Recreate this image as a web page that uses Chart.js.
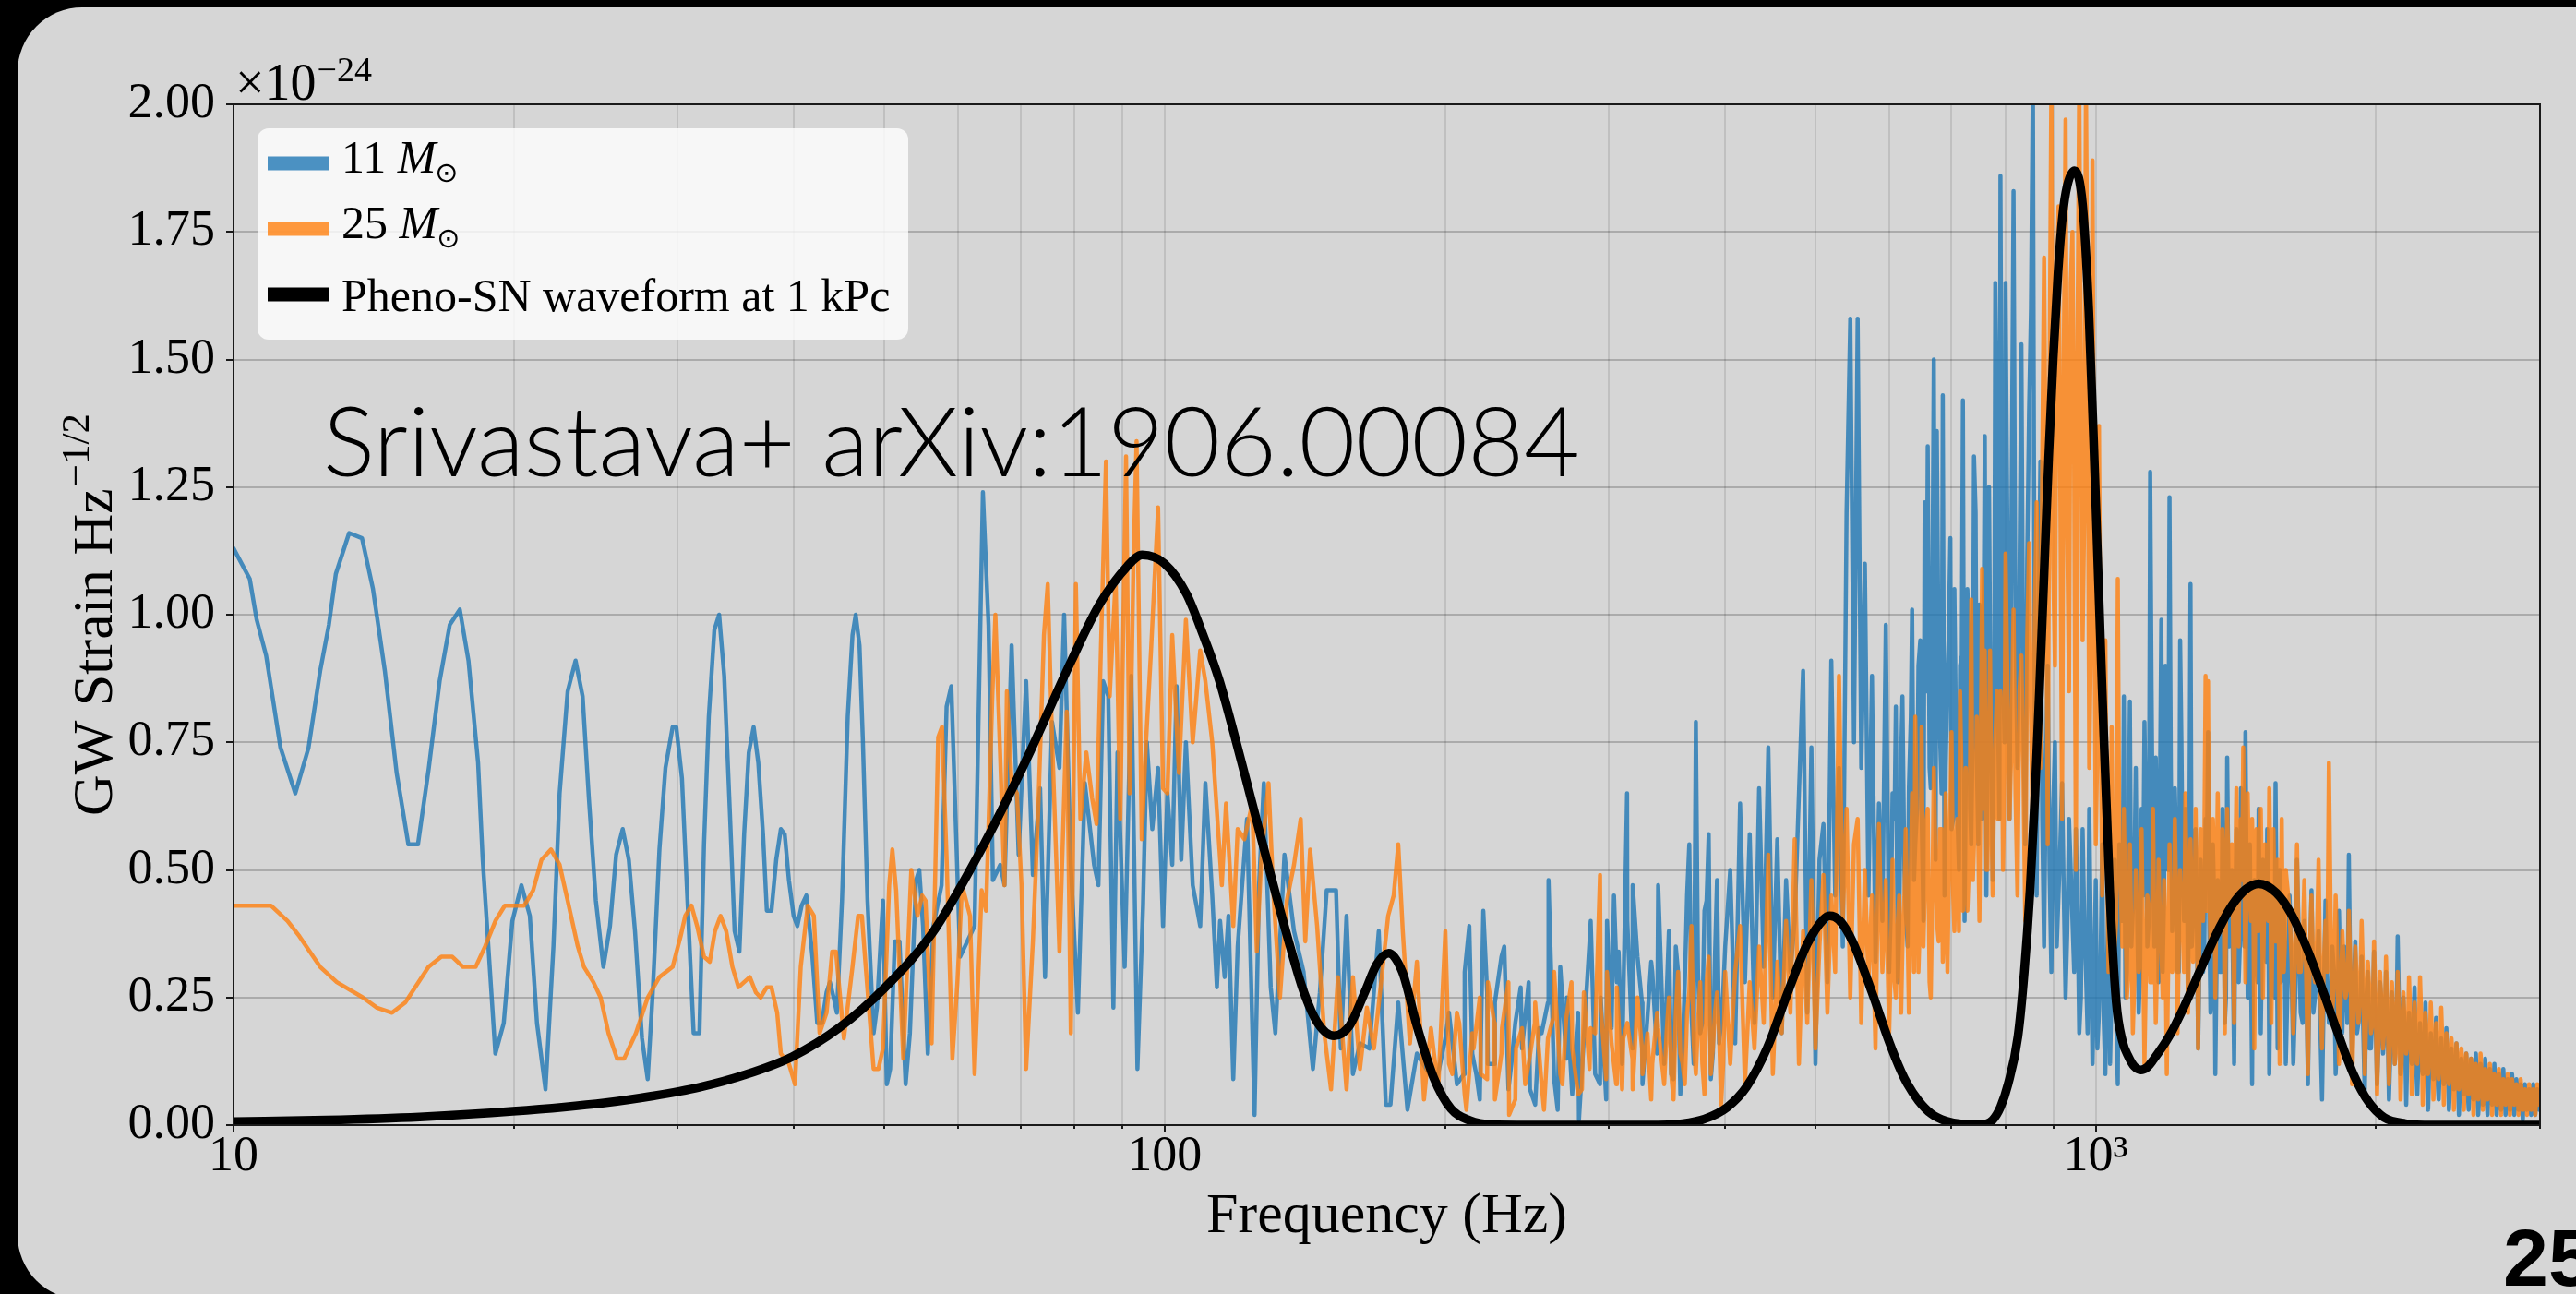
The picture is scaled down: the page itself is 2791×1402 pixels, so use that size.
<!DOCTYPE html>
<html lang="en">
<head>
<meta charset="UTF-8">
<title>GW strain spectra - Pheno-SN</title>
<script src="https://cdn.jsdelivr.net/npm/chart.js"></script>
<style>
  html, body { margin: 0; padding: 0; background: #000; }
  canvas { display: block; }
</style>
</head>
<body>
<canvas id="spectrum" width="2791" height="1402"></canvas>
<script>
// ---- data (strain in units of 1e-24 Hz^-1/2, frequency in Hz) ----

// 11 Msun, traced points 10 - 340 Hz
const blueLow = [
  [10.0,1.13],[10.41,1.07],[10.59,0.99],[10.84,0.92],[11.23,0.74],[11.65,0.65],[12.04,0.74],[12.39,0.89],[12.66,0.98],[12.88,1.08],
  [13.31,1.16],[13.74,1.15],[14.12,1.05],[14.54,0.89],[14.97,0.69],[15.41,0.55],[15.78,0.55],[16.21,0.70],[16.65,0.87],[17.07,0.98],
  [17.50,1.01],[17.88,0.91],[18.31,0.71],[18.52,0.52],[19.11,0.14],[19.51,0.20],[19.93,0.40],[20.38,0.47],[20.81,0.41],[21.18,0.20],
  [21.63,0.07],[22.06,0.35],[22.40,0.65],[22.85,0.85],[23.30,0.91],[23.71,0.84],[24.08,0.64],[24.50,0.44],[24.96,0.31],[25.37,0.39],
  [25.76,0.53],[26.18,0.58],[26.58,0.52],[26.99,0.38],[27.46,0.17],[27.85,0.09],[28.20,0.26],[28.67,0.54],[29.10,0.70],[29.62,0.78],
  [29.89,0.78],[30.31,0.68],[30.73,0.44],[31.20,0.18],[31.65,0.18],[32.01,0.55],[32.39,0.80],[32.84,0.97],[33.23,1.00],[33.65,0.88],
  [34.13,0.61],[34.53,0.38],[34.94,0.34],[35.35,0.57],[35.76,0.73],[36.19,0.78],[36.61,0.71],[37.04,0.57],[37.39,0.42],[37.82,0.42],
  [38.27,0.52],[38.71,0.58],[39.08,0.57],[39.49,0.48],[39.95,0.41],[40.32,0.39],[40.75,0.43],[41.23,0.45],[41.85,0.33],[42.35,0.20],
  [42.84,0.20],[43.34,0.26],[43.70,0.28],[44.11,0.25],[44.46,0.22],[45.03,0.44],[45.67,0.80],[46.21,0.96],[46.58,1.00],[47.02,0.94],
  [47.40,0.76],[47.96,0.44],[48.69,0.18],[49.09,0.23],[49.83,0.44],[50.30,0.08],[50.72,0.11],[51.31,0.36],[51.91,0.36],[52.70,0.08],
  [53.26,0.18],[54.08,0.48],[54.51,0.50],[55.02,0.39],[55.67,0.14],[56.44,0.39],[57.60,0.47],[58.32,0.82],[59.00,0.86],[60.30,0.33],
  [62.5,0.39],[63.8,1.24],[64.7,0.98],[65.4,0.48],[66.6,0.51],[67.3,0.47],[68.5,0.94],[69.7,0.53],[71.0,0.87],[72.2,0.49],
  [73.5,0.66],[74.4,0.29],[75.7,0.79],[77.1,0.70],[78.0,1.00],[79.3,0.51],[80.7,0.22],[82.1,0.67],[84.0,0.51],[84.9,0.47],
  [85.9,0.87],[87.0,0.84],[88.1,0.23],[89.0,0.73],[90.6,0.31],[92.1,0.88],[93.5,0.11],[94.8,0.43],[95.7,0.75],[97.0,0.58],
  [98.4,0.70],[99.6,0.39],[100.7,0.65],[101.9,0.51],[103.0,0.86],[104.2,0.52],[105.4,0.75],[107.2,0.47],[109.2,0.39],[110.6,0.67],
  [112.5,0.45],[113.8,0.27],[114.7,0.40],[116.0,0.29],[117.1,0.41],[118.5,0.09],[119.8,0.35],[122.6,0.60],[124.9,0.02],[126.3,0.47],
  [127.8,0.67],[130.0,0.27],[131.5,0.18],[134.5,0.53],[137.7,0.38],[141.0,0.30],[144.3,0.11],[146.8,0.26],[149.3,0.46],[152.8,0.46],
  [154.6,0.15],[156.8,0.41],[159.3,0.10],[162.1,0.16],[165.9,0.15],[169.8,0.38],[172.8,0.04],[174.8,0.04],[178.2,0.24],[182.3,0.03],
  [186.6,0.14],[190.9,0.11],[195.6,0.08],[200.2,0.17],[204.9,0.12],[209.6,0.10],[212.4,0.39],[216.1,0.10],[219.9,0.42],[222.4,0.12],
  [226.3,0.24],[231.6,0.35],[235.7,0.12],[241.2,0.27],[246.8,0.07],[252.5,0.19],[258.4,0.48],[264.3,0.03],[270.4,0.25],[278.6,0.01],
  [283.6,0.25],[286.8,0.40],[293.5,0.08],[298.6,0.40],[303.8,0.45],[307.3,0.34],[313.8,0.65],[318.2,0.47],[325.6,0.24],[333.1,0.32],
  [338.9,0.47]
];

// 25 Msun, traced points 10 - 340 Hz
const orangeLow = [
  [10.0,0.43],[10.47,0.43],[10.97,0.43],[11.43,0.40],[11.77,0.37],[12.39,0.31],[12.91,0.28],[13.77,0.25],[14.26,0.23],[14.80,0.22],
  [15.29,0.24],[16.20,0.31],[16.72,0.33],[17.18,0.33],[17.64,0.31],[18.20,0.31],[18.63,0.35],[19.11,0.40],[19.56,0.43],[20.52,0.43],
  [20.98,0.46],[21.42,0.52],[21.93,0.54],[22.40,0.51],[22.85,0.44],[23.43,0.35],[23.79,0.31],[24.35,0.28],[24.79,0.25],[25.28,0.18],
  [25.82,0.13],[26.27,0.13],[27.05,0.18],[27.85,0.25],[28.67,0.29],[29.62,0.31],[30.21,0.37],[30.56,0.41],[31.03,0.43],[31.47,0.39],
  [32.01,0.33],[32.47,0.32],[32.89,0.38],[33.35,0.41],[33.82,0.38],[34.34,0.31],[34.86,0.27],[35.35,0.28],[35.85,0.29],[36.39,0.26],
  [36.82,0.25],[37.39,0.27],[37.82,0.27],[38.36,0.22],[38.71,0.14],[39.49,0.12],[40.09,0.08],[40.66,0.31],[41.37,0.43],[42.00,0.41],
  [42.60,0.18],[43.34,0.22],[43.95,0.34],[44.36,0.34],[45.24,0.17],[46.21,0.31],[46.86,0.41],[47.30,0.41],[47.75,0.31],[48.69,0.11],
  [49.27,0.11],[49.83,0.15],[50.60,0.47],[51.00,0.54],[51.48,0.46],[52.40,0.13],[53.44,0.50],[54.27,0.41],[54.90,0.45],[55.36,0.44],
  [56.20,0.16],[57.12,0.76],[57.66,0.78],[58.33,0.52],[59.16,0.13],[59.9,0.28],[60.6,0.47],[61.8,0.41],[62.5,0.10],[63.6,0.46],
  [64.3,0.42],[65.3,0.84],[65.8,1.00],[66.6,0.72],[67.3,0.47],[67.7,0.85],[68.5,0.67],[69.4,0.65],[70.2,0.47],[71.0,0.11],
  [72.2,0.36],[73.1,0.60],[74.2,0.96],[74.9,1.06],[75.7,0.76],[77.1,0.34],[78.5,0.81],[79.3,0.18],[80.3,1.06],[81.2,0.60],
  [82.4,0.73],[83.6,0.64],[84.5,0.59],[85.5,0.96],[86.5,1.30],[87.3,0.84],[88.6,1.07],[89.6,0.60],[90.9,1.31],[91.7,0.65],
  [92.6,1.11],[93.3,1.34],[94.5,0.56],[95.5,0.75],[96.7,0.93],[98.4,1.21],[99.6,0.66],[100.7,0.65],[101.9,0.96],[103.6,0.69],
  [105.4,0.99],[107.2,0.75],[109.2,0.93],[110.6,0.87],[112.5,0.75],[115.2,0.47],[116.4,0.63],[118.5,0.39],[119.8,0.58],[121.8,0.56],
  [124.2,0.63],[125.6,0.34],[127.0,0.52],[129.3,0.67],[130.8,0.46],[133.0,0.25],[135.3,0.44],[137.7,0.51],[140.0,0.60],[141.6,0.36],
  [143.3,0.54],[145.8,0.39],[148.4,0.18],[150.9,0.07],[153.5,0.29],[156.8,0.07],[159.3,0.29],[162.1,0.11],[164.9,0.23],[167.8,0.15],
  [170.8,0.28],[173.8,0.41],[176.2,0.45],[178.2,0.55],[180.2,0.38],[183.4,0.16],[186.6,0.32],[189.9,0.05],[193.2,0.19],[196.7,0.07],
  [200.2,0.38],[203.7,0.10],[207.2,0.20],[210.9,0.03],[214.7,0.15],[218.6,0.10],[222.4,0.28],[226.3,0.05],[230.3,0.19],[234.4,0.02],
  [238.4,0.15],[243.9,0.08],[249.8,0.20],[255.5,0.03],[261.4,0.21],[267.4,0.08],[273.5,0.28],[280.7,0.07],[286.8,0.19],[293.5,0.49],
  [298.6,0.30],[305.5,0.08],[310.9,0.17],[318.2,0.07],[325.6,0.15],[333.1,0.05],[338.9,0.19]
];

// dense part, shared frequency bins 344 - 2995 Hz
const hiFreq = [
  344,348,352,356,360,364,368,372,376,380,384,388,392,396,400,
  405,410,415,420,425,430,435,440,445,450,
  455,460,465,470,475,480,485,490,495,500,
  505,510,515,520,525,530,535,540,545,550,
  555,560,565,570,575,580,585,590,595,600,
  605,610,615,620,625,630,635,640,645,650,
  655,660,665,670,675,680,685,690,695,700,
  705,710,715,720,725,730,735,740,745,750,
  755,760,765,770,775,780,785,790,795,800,
  808,816,824,832,840,848,856,864,872,880,
  888,896,904,912,920,928,936,944,952,960,
  968,976,984,992,1000,1008,1016,1024,1032,1040,
  1048,1056,1064,1072,1080,1088,1096,1104,1112,1120,
  1128,1136,1144,1152,1160,1168,1176,1184,1192,1200,
  1208,1216,1224,1232,1240,1248,1256,1264,1272,1280,
  1288,1296,1304,1312,1320,1328,1336,1344,1352,1360,
  1368,1376,1384,1392,1400,1408,1416,1424,1432,1440,
  1448,1456,1464,1472,1480,1488,1496,1504,1512,1520,
  1528,1536,1544,1552,1560,1568,1576,1584,1592,1600,
  1615,1630,1645,1660,1675,1690,1705,1720,1735,1750,
  1765,1780,1795,1810,1825,1840,1855,1870,1885,1900,
  1915,1930,1945,1960,1975,1990,2005,2020,2035,2050,
  2065,2080,2095,2110,2125,2140,2155,2170,2185,2200,
  2215,2230,2245,2260,2275,2290,2305,2320,2335,2350,
  2365,2380,2395,2410,2425,2440,2455,2470,2485,2500,
  2515,2530,2545,2560,2575,2590,2605,2620,2635,2650,
  2665,2680,2695,2710,2725,2740,2755,2770,2785,2800,
  2815,2830,2845,2860,2875,2890,2905,2920,2935,2950,
  2965,2980,2995
];

const blueHi = [
  0.12,0.38,0.09,0.30,0.15,0.45,0.22,0.79,0.18,0.42,0.57,0.14,0.48,0.20,0.35,
  0.50,0.16,0.63,0.28,0.57,0.20,0.66,0.31,0.74,0.25,
  0.56,0.18,0.48,0.30,0.40,0.65,0.89,0.22,0.74,0.12,
  0.52,0.59,0.28,0.91,0.45,0.70,0.35,1.20,1.58,0.75,
  1.58,0.70,1.10,0.45,0.88,0.32,0.63,0.40,0.98,0.30,
  0.65,0.82,0.38,0.84,0.42,0.66,1.01,0.55,0.90,0.62,
  1.22,1.33,0.66,1.50,1.36,0.78,1.43,0.70,0.95,0.58,
  1.05,0.62,0.90,1.42,0.66,0.98,0.55,1.31,0.72,1.02,
  0.60,1.35,0.70,0.95,0.48,1.65,0.82,1.86,0.90,1.65,
  0.60,1.83,0.70,1.53,0.55,1.40,2.05,0.45,1.30,0.35,
  0.90,0.30,0.75,0.45,0.67,0.25,0.60,0.40,0.58,0.18,
  0.58,0.30,0.62,0.12,0.48,0.22,0.55,0.10,0.45,0.26,
  0.52,0.08,0.40,0.84,0.30,0.83,0.42,0.70,0.22,0.62,
  0.79,0.35,1.28,0.50,0.72,0.28,0.99,0.45,0.70,1.23,
  0.38,0.66,0.30,0.95,0.48,0.62,0.25,1.06,0.40,0.58,
  0.15,0.52,0.30,0.60,0.77,0.22,0.55,0.10,0.48,0.30,
  0.62,0.20,0.72,0.35,0.50,0.12,0.58,0.28,0.66,0.40,
  0.77,0.25,0.55,0.08,0.48,0.30,0.62,0.18,0.52,0.35,
  0.58,0.10,0.45,0.26,0.67,0.15,0.50,0.30,0.44,0.12,
  0.45,0.12,0.52,0.22,0.40,0.08,0.46,0.25,0.38,0.05,
  0.44,0.20,0.35,0.10,0.42,0.18,0.30,0.53,0.12,0.36,
  0.20,0.33,0.06,0.30,0.15,0.34,0.08,0.28,0.14,0.30,
  0.05,0.26,0.12,0.37,0.10,0.25,0.04,0.22,0.12,0.27,
  0.06,0.20,0.10,0.24,0.03,0.18,0.09,0.21,0.05,0.17,
  0.08,0.19,0.03,0.15,0.07,0.16,0.02,0.13,0.06,0.14,
  0.03,0.13,0.05,0.14,0.02,0.12,0.04,0.13,0.02,0.11,
  0.04,0.12,0.02,0.10,0.03,0.11,0.02,0.09,0.03,0.10,
  0.02,0.09,0.03,0.08,0.01,0.08,0.03,0.07,0.02,0.08,
  0.02,0.07,0.03
];

const orangeHi = [
  0.08,0.25,0.05,0.30,0.12,0.22,0.39,0.10,0.28,0.06,0.33,0.15,0.26,0.04,0.30,
  0.12,0.30,0.39,0.08,0.28,0.15,0.35,0.20,0.53,0.10,
  0.32,0.18,0.40,0.22,0.56,0.12,0.38,0.20,0.48,0.15,
  0.35,0.49,0.22,0.45,0.30,0.88,0.40,0.62,0.25,0.55,
  0.60,0.20,0.50,0.28,0.45,0.15,0.59,0.30,0.48,0.18,
  0.52,0.25,0.45,0.35,0.58,0.22,0.65,0.80,0.30,0.78,
  0.45,0.62,0.25,0.70,0.40,0.58,0.32,0.65,0.45,0.77,
  0.38,0.60,0.85,0.42,0.70,0.48,1.03,0.55,0.80,0.40,
  1.09,0.93,0.50,0.93,0.45,0.75,0.60,0.85,0.50,1.12,
  0.60,1.01,0.45,0.92,0.40,1.14,0.55,1.22,0.70,1.70,
  0.55,2.05,0.90,1.80,0.60,1.97,0.85,1.75,0.50,2.05,
  0.95,2.05,0.70,1.89,0.55,1.37,0.45,0.95,0.30,0.78,
  0.35,1.07,0.45,0.62,0.25,0.55,0.18,0.50,0.30,0.58,
  0.12,0.45,0.28,0.62,0.20,0.52,0.35,0.48,0.10,0.55,
  0.30,0.60,0.18,0.50,0.38,0.65,0.22,0.56,0.32,0.62,
  0.15,0.58,0.40,0.88,0.87,0.35,0.60,0.25,0.65,0.40,
  0.58,0.18,0.62,0.42,0.55,0.20,0.66,0.35,0.60,0.74,
  0.28,0.65,0.45,0.60,0.15,0.58,0.38,0.62,0.25,0.55,
  0.42,0.66,0.20,0.58,0.36,0.52,0.12,0.60,0.30,0.50,
  0.42,0.18,0.55,0.30,0.48,0.10,0.45,0.28,0.52,0.15,
  0.40,0.71,0.22,0.45,0.12,0.38,0.25,0.42,0.08,0.35,
  0.20,0.40,0.10,0.32,0.18,0.36,0.06,0.30,0.15,0.33,
  0.08,0.28,0.12,0.30,0.05,0.26,0.14,0.29,0.06,0.24,
  0.12,0.29,0.04,0.22,0.10,0.24,0.05,0.20,0.09,0.23,
  0.04,0.18,0.08,0.17,0.03,0.16,0.07,0.15,0.03,0.14,
  0.06,0.13,0.02,0.12,0.05,0.14,0.03,0.11,0.05,0.12,
  0.02,0.10,0.04,0.11,0.02,0.09,0.04,0.10,0.02,0.09,
  0.04,0.08,0.02,0.09,0.03,0.07,0.02,0.08,0.03,0.07,
  0.02,0.08,0.04
];

// in-between bins where the spectra are densest
const midFreq = [
  202,206,210,214,218,222,226,230,234,238,242,246,250,254,258,262,266,270,274,278,
  282,286,290,294,298,302,306,310,314,318,322,326,330,334,338,
  346,350,354,358,362,366,370,374,378,382,386,390,394,398,
  603,608,613,618,623,628,633,638,643,648,653,658,663,668,673,678,683,688,693,698,
  703,708,713,718,723,728,733,738,743,748,753,758,763,768,773,778,783,788,793,798,
  812,820,828,836,844,852,860,868,876,
  884,892,900,908,916,924,932,940,948,956,
  964,972,980,988,996,1004,1012,1020,1028,1036,
  1044,1052,1060,1068,1076,1084,1092,1100,1108,1116,
  1124,1132,1140,1148,1156,1164,1172,1180,1188,1196,
  1204,1212,1220,1228,1236,1244,1252,1260,1268,1276,
  1284,1292,1300,1308,1316,1324,1332,1340,1348,1356,
  1364,1372,1380,1388,1396,1404,1412,1420,1428,1436,
  1444,1452,1460,1468,1476,1484,1492,1500,1508,1516,
  1524,1532,1540,1548,1556,1564,1572,1580,1588,1596,
  1623,1638,1653,1668,1683,1698,1713,1728,1743,1758,
  1773,1788,1803,1818,1833,1848,1863,1878,1893,1908,
  1923,1938,1953,1968,1983,1998,2013,2028,2043,2058,
  2073,2088,2103,2118,2133,2148,2163,2178,2193,2208,
  2223,2238,2253,2268,2283,2298,2313,2328,2343,2358,
  2373,2388,2403,2418,2433,2448,2463,2478,2493,2508,
  2523,2538,2553,2568,2583,2598,2613,2628,2643,2658,
  2673,2688,2703,2718,2733,2748,2763,2778,2793,2808,
  2823,2838,2853,2868,2883,2898,2913,2928,2943,2958,
  2973,2988
];

const blueMid = [
  0.22,0.08,0.30,0.14,0.05,0.26,0.12,0.33,0.07,0.20,0.15,0.28,0.04,0.18,0.24,0.09,0.31,0.13,0.06,0.22,
  0.17,0.36,0.10,0.25,0.05,0.19,0.28,0.12,0.40,0.15,0.33,0.08,0.21,0.30,0.14,
  0.25,0.10,0.35,0.06,0.28,0.55,0.12,0.30,0.20,0.44,0.09,0.33,0.16,0.26,
  0.45,0.60,0.28,0.72,0.50,0.35,0.80,0.48,0.62,0.95,0.40,0.85,0.70,1.10,0.52,0.90,0.65,0.45,0.88,1.15,
  0.60,0.75,0.50,0.92,0.40,1.05,0.62,0.80,1.20,0.55,0.70,0.98,0.45,1.25,0.68,0.85,1.40,0.60,1.10,0.75,
  1.20,0.95,1.05,0.80,1.10,1.60,0.75,0.95,0.60,
  0.70,0.50,0.62,0.35,0.55,0.45,0.38,0.50,0.30,0.42,
  0.25,0.40,0.18,0.35,0.28,0.15,0.32,0.20,0.30,0.12,
  0.35,0.20,0.55,0.40,0.25,0.50,0.35,0.48,0.40,0.30,
  0.45,0.60,0.40,0.85,0.35,0.55,0.65,0.30,0.90,0.50,
  0.70,0.45,0.55,0.30,0.75,0.40,0.60,0.50,0.35,0.45,
  0.40,0.30,0.45,0.35,0.50,0.40,0.25,0.45,0.30,0.38,
  0.30,0.45,0.25,0.50,0.40,0.30,0.42,0.48,0.35,0.55,
  0.35,0.50,0.40,0.30,0.45,0.38,0.28,0.42,0.35,0.40,
  0.32,0.45,0.30,0.40,0.25,0.42,0.35,0.28,0.38,0.30,
  0.30,0.25,0.35,0.20,0.28,0.32,0.22,0.30,0.18,0.26,
  0.28,0.22,0.30,0.18,0.25,0.35,0.20,0.24,0.28,0.18,
  0.22,0.18,0.25,0.15,0.22,0.20,0.16,0.24,0.18,0.20,
  0.15,0.20,0.18,0.22,0.14,0.18,0.16,0.15,0.20,0.12,
  0.14,0.12,0.16,0.10,0.13,0.12,0.14,0.09,0.12,0.11,
  0.10,0.12,0.08,0.11,0.09,0.10,0.08,0.09,0.10,0.07,
  0.08,0.09,0.07,0.08,0.06,0.09,0.07,0.06,0.08,0.06,
  0.07,0.06,0.07,0.05,0.06,0.07,0.05,0.06,0.05,0.06,
  0.05,0.06,0.04,0.05,0.06,0.04,0.05,0.04,0.05,0.04,
  0.05,0.04
];

const orangeMid = [
  0.12,0.22,0.06,0.18,0.25,0.09,0.20,0.14,0.28,0.05,0.19,0.12,0.24,0.08,0.17,0.30,0.10,0.21,0.15,0.06,
  0.26,0.11,0.18,0.23,0.09,0.16,0.27,0.07,0.20,0.13,0.25,0.10,0.18,0.12,0.22,
  0.18,0.10,0.22,0.14,0.08,0.26,0.16,0.20,0.12,0.28,0.10,0.22,0.18,0.12,
  0.35,0.28,0.40,0.22,0.45,0.38,0.50,0.30,0.55,0.42,0.35,0.60,0.28,0.48,0.52,0.36,0.58,0.40,0.30,0.62,
  0.45,0.55,0.38,0.66,0.50,0.42,0.72,0.48,0.60,0.55,0.80,0.62,0.50,0.75,0.58,0.68,0.85,0.60,0.78,0.70,
  0.75,0.65,0.85,0.70,0.95,0.80,1.00,0.90,1.30,
  1.20,1.45,1.10,1.60,1.25,1.50,1.15,1.65,1.30,1.55,
  1.40,1.20,1.55,0.95,1.10,0.75,0.85,0.60,0.55,0.45,
  0.50,0.40,0.55,0.35,0.42,0.30,0.38,0.28,0.40,0.32,
  0.35,0.30,0.42,0.28,0.38,0.32,0.40,0.25,0.36,0.30,
  0.40,0.32,0.45,0.35,0.42,0.30,0.48,0.38,0.44,0.35,
  0.45,0.38,0.50,0.55,0.42,0.48,0.40,0.52,0.45,0.50,
  0.42,0.48,0.40,0.52,0.45,0.38,0.50,0.44,0.55,0.48,
  0.50,0.45,0.52,0.40,0.48,0.44,0.50,0.42,0.46,0.40,
  0.45,0.40,0.48,0.38,0.44,0.36,0.42,0.40,0.38,0.35,
  0.32,0.38,0.30,0.35,0.28,0.34,0.30,0.36,0.26,0.32,
  0.30,0.40,0.28,0.32,0.25,0.30,0.27,0.30,0.22,0.28,
  0.25,0.28,0.22,0.26,0.20,0.24,0.18,0.23,0.20,0.22,
  0.18,0.22,0.16,0.20,0.15,0.19,0.16,0.20,0.14,0.17,
  0.18,0.20,0.13,0.17,0.14,0.16,0.12,0.15,0.13,0.15,
  0.12,0.14,0.11,0.13,0.10,0.12,0.10,0.11,0.09,0.11,
  0.09,0.10,0.08,0.09,0.08,0.10,0.07,0.09,0.08,0.09,
  0.07,0.08,0.07,0.08,0.06,0.07,0.06,0.08,0.06,0.07,
  0.06,0.07,0.05,0.06,0.05,0.06,0.05,0.06,0.05,0.06,
  0.05,0.06
];

// Pheno-SN model curve at 1 kPc
const phenoCurve = [
  [10,0.007],[12.59,0.010],[15.85,0.016],[19.95,0.027],[25.12,0.044],[28.18,0.057],[31.62,0.074],[35.48,0.099],[39.81,0.134],[44.67,0.19],
  [50.12,0.27],[56.23,0.375],[63.1,0.53],[70.79,0.71],[79.43,0.91],[85.11,1.02],[91.2,1.095],[94.6,1.117],[100,1.1],[105.6,1.04],
  [110,0.96],[114.4,0.873],[119,0.76],[124,0.635],[130,0.49],[136,0.358],[141,0.262],[146,0.2],[152,0.175],[158,0.195],
  [164,0.26],[169,0.315],[174,0.337],[180,0.3],[186.7,0.193],[194.6,0.092],[203,0.032],[212.6,0.009],[225,0.001],[260,0],
  [330,0],[360,0.003],[380,0.012],[402,0.035],[421.7,0.075],[444,0.152],[467,0.26],[490,0.355],[510,0.403],[518,0.41],
  [530,0.402],[548,0.36],[575,0.26],[600,0.163],[618,0.105],[627,0.082],[645,0.048],[666,0.022],[690,0.008],[720,0.002],
  [760,0.002],[775,0.01],[790,0.035],[805,0.08],[825,0.174],[838,0.30],[850,0.46],[860,0.64],[870,0.851],[880,1.08],
  [890,1.307],[900,1.50],[911,1.672],[921,1.78],[932,1.841],[949,1.870],[968,1.802],[983,1.594],[999,1.242],[1016,0.851],
  [1035,0.46],[1052,0.24],[1068,0.165],[1085,0.133],[1100,0.115],[1118,0.108],[1135,0.113],[1153,0.128],[1200,0.175],[1244,0.232],
  [1290,0.297],[1343,0.369],[1400,0.43],[1449,0.462],[1497,0.473],[1563,0.455],[1620,0.415],[1687,0.345],[1752,0.265],[1820,0.18],
  [1891,0.10],[1964,0.045],[2040,0.015],[2150,0.003],[2300,0],[3000,0]
];

// axis ticks and labels
const xTicks = [10,20,30,40,50,60,70,80,90,100,200,300,400,500,600,700,800,900,1000,2000,3000];
const xLabels = { 10: '10', 100: '100', 1000: '10³' };
const yMin = 0, yMax = 2, yStep = 0.25;
const seriesNames = ['11 ', '25 ', 'Pheno-SN waveform at 1 kPc'];
const stampText = 'Srivastava+ arXiv:1906.00084';
const pageNumber = '25';

// ---- styling ----
const BLUE = 'rgba(31,119,180,0.8)';
const ORANGE = 'rgba(255,127,14,0.8)';
const SERIF = '"Liberation Serif", "Times New Roman", serif';

const toXY = pairs => pairs.map(([x, y]) => ({ x, y }));
const zipXY = (xs, ys) => xs.map((x, i) => ({ x, y: ys[i] }));
const byFreq = (a, b) => a.x - b.x;
const blueData = toXY(blueLow).concat(zipXY(hiFreq, blueHi), zipXY(midFreq, blueMid)).sort(byFreq);
const orangeData = toXY(orangeLow).concat(zipXY(hiFreq, orangeHi), zipXY(midFreq, orangeMid)).sort(byFreq);
const phenoData = toXY(phenoCurve);

// slide background: black frame with rounded grey panel
const backdrop = {
  id: 'backdrop',
  beforeDraw(chart) {
    const ctx = chart.ctx;
    ctx.save();
    ctx.fillStyle = '#000';
    ctx.fillRect(0, 0, chart.width, chart.height);
    ctx.fillStyle = '#d6d6d6';
    ctx.beginPath();
    ctx.roundRect(19, 8, 2900, 1400, 70);
    ctx.fill();
    ctx.restore();
  }
};

function drawSolar(ctx, x, cy, size) {
  // subscript sun symbol, centred on cy
  ctx.font = size + 'px "DejaVu Sans"';
  const m = ctx.measureText('⊙');
  const y = cy + (m.actualBoundingBoxAscent - m.actualBoundingBoxDescent) / 2;
  ctx.fillText('⊙', x + m.actualBoundingBoxLeft, y);
}

// spines, tick marks, legend and the free text
const annotate = {
  id: 'annotate',
  afterDraw(chart) {
    const { ctx, chartArea: a, scales: { x, y } } = chart;
    ctx.save();

    // tick marks
    ctx.strokeStyle = '#1a1a1a';
    ctx.lineWidth = 2;
    ctx.beginPath();
    y.ticks.forEach(t => {
      const py = Math.round(y.getPixelForValue(t.value));
      ctx.moveTo(a.left - 8, py);
      ctx.lineTo(a.left, py);
    });
    x.ticks.forEach(t => {
      const px = Math.round(x.getPixelForValue(t.value));
      ctx.moveTo(px, a.bottom);
      ctx.lineTo(px, a.bottom + (xLabels[t.value] ? 8 : 4));
    });
    ctx.stroke();
    ctx.strokeRect(a.left, a.top, a.right - a.left, a.bottom - a.top);

    ctx.fillStyle = '#000';
    ctx.textBaseline = 'alphabetic';
    ctx.textAlign = 'left';

    // offset text x10^-24
    ctx.font = '56px ' + SERIF;
    ctx.fillText('×10', 255, 108);
    const w10 = ctx.measureText('×10').width;
    ctx.font = '38px ' + SERIF;
    ctx.fillText('−24', 255 + w10 + 1, 88);

    // axis titles
    ctx.font = '62px ' + SERIF;
    ctx.textAlign = 'center';
    ctx.fillText('Frequency (Hz)', (a.left + a.right) / 2, 1335);
    ctx.textAlign = 'left';

    ctx.save();
    ctx.translate(121, (a.top + a.bottom) / 2);
    ctx.rotate(-Math.PI / 2);
    ctx.font = '62px ' + SERIF;
    const yMain = 'GW Strain Hz';
    const wm = ctx.measureText(yMain).width;
    ctx.font = '43px ' + SERIF;
    const ws = ctx.measureText('−1/2').width;
    const sx = -(wm + ws + 2) / 2;
    ctx.font = '62px ' + SERIF;
    ctx.fillText(yMain, sx, 0);
    ctx.font = '43px ' + SERIF;
    ctx.fillText('−1/2', sx + wm + 2, -25);
    ctx.restore();

    // legend
    ctx.fillStyle = 'rgba(255,255,255,0.8)';
    ctx.beginPath();
    ctx.roundRect(279, 139, 705, 229, 12);
    ctx.fill();
    const rows = [
      { color: BLUE, mid: 177, base: 187, sun: true },
      { color: ORANGE, mid: 248, base: 258, sun: true },
      { color: '#000', mid: 319, base: 337, sun: false }
    ];
    rows.forEach((r, i) => {
      ctx.fillStyle = r.color;
      ctx.fillRect(290, r.mid - 7.5, 66, 15);
      ctx.fillStyle = '#000';
      ctx.font = '50px ' + SERIF;
      ctx.fillText(seriesNames[i], 370, r.base);
      if (r.sun) {
        const w0 = ctx.measureText(seriesNames[i]).width;
        ctx.font = 'italic 50px ' + SERIF;
        ctx.fillText('M', 370 + w0, r.base);
        const wM = ctx.measureText('M').width;
        drawSolar(ctx, 370 + w0 + wM + 1, r.base, 30);
      }
    });

    // watermark reference
    ctx.font = '300 104px Lato, "Open Sans", sans-serif';
    const sw = ctx.measureText(stampText).width;
    ctx.save();
    ctx.translate(350, 516);
    ctx.scale(1362 / sw, 1);
    ctx.fillText(stampText, 0, 0);
    ctx.restore();

    // slide page number
    ctx.font = 'bold 88px "Liberation Sans", Arial, sans-serif';
    ctx.fillText(pageNumber, 2712, 1393);

    ctx.restore();
  }
};

new Chart(document.getElementById('spectrum'), {
  type: 'line',
  data: {
    datasets: [
      { label: 'Pheno-SN waveform at 1 kPc', data: phenoData, borderColor: '#000', borderWidth: 9.5,
        cubicInterpolationMode: 'monotone', order: 0 },
      { label: '25 M⊙', data: orangeData, borderColor: ORANGE, borderWidth: 4.5, order: 1 },
      { label: '11 M⊙', data: blueData, borderColor: BLUE, borderWidth: 4.5, order: 2 }
    ]
  },
  options: {
    responsive: false,
    animation: false,
    devicePixelRatio: 1,
    layout: { padding: { left: 0, top: 113, right: 39, bottom: 0 } },
    elements: {
      point: { radius: 0 },
      line: { borderJoinStyle: 'round', borderCapStyle: 'round', tension: 0 }
    },
    plugins: { legend: { display: false }, tooltip: { enabled: false } },
    scales: {
      x: {
        type: 'logarithmic', min: 10, max: 3000,
        afterBuildTicks: s => { s.ticks = xTicks.map(v => ({ value: v })); },
        afterFit: s => { s.height = 183; },
        ticks: {
          autoSkip: false, maxRotation: 0, minRotation: 0, padding: 2, color: '#000',
          font: { family: SERIF, size: 54 },
          callback: v => xLabels[v] || ''
        },
        grid: { color: 'rgba(0,0,0,0.1)', lineWidth: 2, drawTicks: false },
        border: { display: false }
      },
      y: {
        min: yMin, max: yMax,
        afterFit: s => { s.width = 253; },
        ticks: {
          stepSize: yStep, padding: 20, color: '#000',
          font: { family: SERIF, size: 54 },
          callback: v => v.toFixed(2)
        },
        grid: { color: 'rgba(0,0,0,0.2)', lineWidth: 2, drawTicks: false },
        border: { display: false }
      }
    }
  },
  plugins: [backdrop, annotate]
});
</script>
</body>
</html>
